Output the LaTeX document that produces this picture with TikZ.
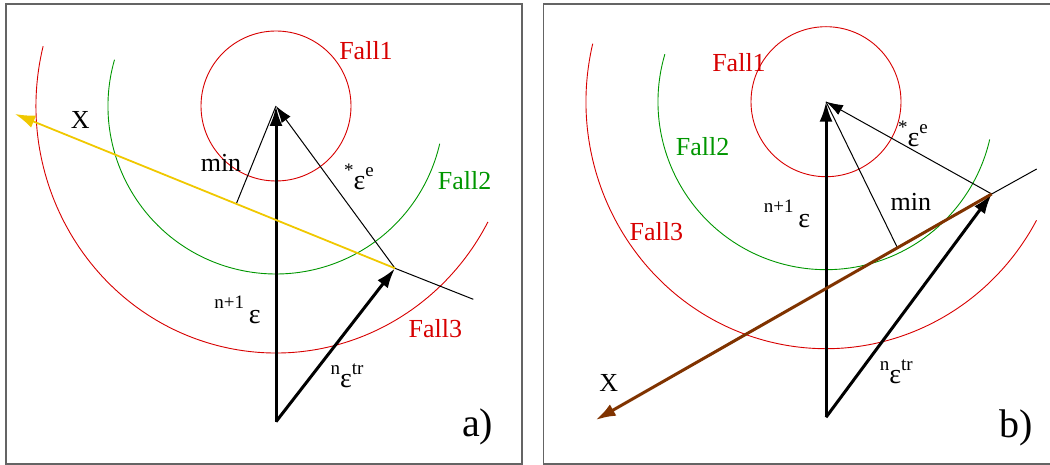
\documentclass[tikz,border=0pt]{standalone}
\usepackage{fontspec}
\setmainfont{Liberation Serif}
\usetikzlibrary{arrows.meta,calc}
\newcommand\fsz[1]{\fontsize{#1}{#1}\selectfont}
\newcommand\rsup[1]{\raisebox{13pt}{\fsz{19}#1}}
\definecolor{fred}{RGB}{215,0,0}
\definecolor{fgreen}{RGB}{0,150,0}
\definecolor{fyellow}{RGB}{240,200,0}
\definecolor{fbrown}{RGB}{128,51,0}
\definecolor{fframe}{RGB}{100,100,100}
\tikzset{
  framebox/.style={draw=fframe,line width=1.2pt},
  redarc/.style={draw=fred,line width=0.9pt},
  greenarc/.style={draw=fgreen,line width=0.9pt},
  thickarrow/.style={line width=3pt,-{Latex[length=20pt,width=13pt]}},
  thinarrow/.style={line width=1pt,-{Latex[length=17pt,width=11pt]}},
  thinline/.style={line width=1pt},
  yellowarrow/.style={draw=fyellow,line width=1.8pt,-{Latex[length=20pt,width=13pt]}},
  brownarrow/.style={draw=fbrown,line width=3pt,-{Latex[length=20pt,width=13pt]}},
  lbl/.style={anchor=base,inner sep=0pt,font=\fsz{26}},
  bigl/.style={anchor=base,inner sep=0pt,font=\fsz{40}},
}
\begin{document}
\begin{tikzpicture}[x=1pt,y=1pt]
\useasboundingbox (0,0) rectangle (1050,-465);
% frames
\draw[framebox] (6,-4) rectangle (522,-464);
\draw[framebox] (1052,-4) -- (543.5,-4) -- (543.5,-464) -- (1052,-464);

% ---------------- panel a ----------------
\coordinate (Ca) at (276,-106);
\coordinate (Ba) at (276,-421.7);
\coordinate (Ta) at (395,-268.3);
\coordinate (Xa) at (15,-114);
\coordinate (Ea) at (473.3,-299.3);
\coordinate (Fa) at ($(Ta)!(Ca)!(Xa)$);

\draw[redarc] (Ca) circle[radius=75];
\draw[greenarc] (Ca) ++(164:168) arc[start angle=164,end angle=347,radius=168];
\draw[redarc] (Ca) ++(166:240 and 247) arc[start angle=166,end angle=332,x radius=240,y radius=247];

\draw[thinline] (Ca) -- (Fa);
\draw[thinline] (Ta) -- (Ea);
\draw[thinarrow] (Ta) -- (Ca);
\draw[thickarrow] (Ba) -- (Ca);
\draw[thickarrow] (Ba) -- (Ta);
\draw[yellowarrow] (Ta) -- (Xa);

\node[lbl,text=fred] (fa1) at (366,-59.3) {Fall1};
\node[lbl,text=fgreen] (fa2) at (464.7,-190) {Fall2};
\node[lbl,text=fred] (fa3) at (435.3,-337.7) {Fall3};
\node[lbl] (xa) at (80.3,-128.3) {X};
\node[lbl] (mina) at (221,-171.7) {min};
\node[lbl,font=\fsz{28}] (eea) at (359,-190) {\rsup{*}ε\rsup{e}};
\node[lbl,font=\fsz{28}] (ena) at (237.5,-323.3) {\raisebox{15pt}{\fsz{19}n+1}\,ε};
\node[lbl,font=\fsz{28}] (etra) at (347,-387) {\rsup{n}ε\rsup{tr}};
\node[bigl] (pa) at (477.7,-436) {a)};

% ---------------- panel b ----------------
\coordinate (Cb) at (826,-101.7);
\coordinate (Bb) at (826,-417.3);
\coordinate (Tb) at (991.7,-194);
\coordinate (Xb) at (595.7,-420);
\coordinate (Eb) at (1036.7,-169);
\coordinate (Fb) at ($(Tb)!0.238!(Xb)$);

\draw[redarc] (Cb) circle[radius=75];
\draw[greenarc] (Cb) ++(163.6:168) arc[start angle=163.6,end angle=347,radius=168];
\draw[redarc] (Cb) ++(166.4:240 and 247) arc[start angle=166.4,end angle=331.3,x radius=240,y radius=247];

\draw[thinline] (Cb) -- (Fb);
\draw[thinline] (Tb) -- (Eb);
\draw[thinarrow] (Tb) -- (Cb);
\draw[thickarrow] (Bb) -- (Cb);
\draw[thickarrow] (Bb) -- (Tb);
\draw[brownarrow] (Tb) -- (Xb);

\node[lbl,text=fred] (fb1) at (739,-71.7) {Fall1};
\node[lbl,text=fgreen] (fb2) at (702.7,-155.7) {Fall2};
\node[lbl,text=fred] (fb3) at (656.3,-240.7) {Fall3};
\node[lbl] (xb) at (608.7,-391.7) {X};
\node[lbl] (minb) at (910.8,-210.7) {min};
\node[lbl,font=\fsz{28}] (eeb) at (913,-146.7) {\rsup{*}ε\rsup{e}};
\node[lbl,font=\fsz{28}] (enb) at (787,-227.3) {\raisebox{15pt}{\fsz{19}n+1}\,ε};
\node[lbl,font=\fsz{28}] (etrb) at (896.3,-383.3) {\rsup{n}ε\rsup{tr}};
\node[bigl] (pb) at (1015.8,-437.3) {b)};
\end{tikzpicture}
\end{document}
